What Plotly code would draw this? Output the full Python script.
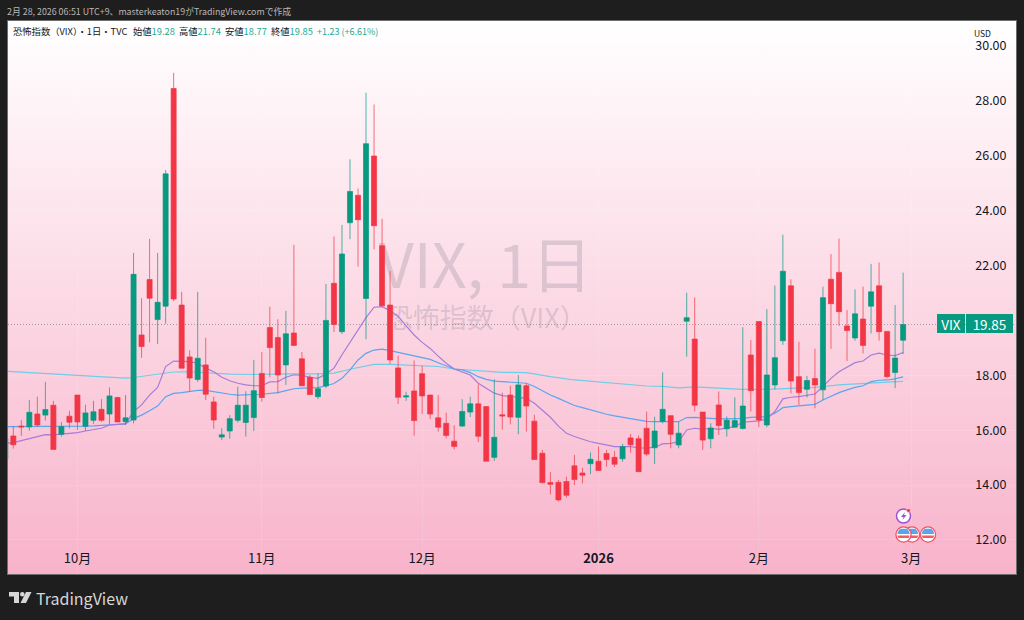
import base64
import plotly.graph_objects as go

# candles (index 0 is the half-hidden one at the left edge)
OPEN = [14.95, 15.79, 16.15, 16.12, 16.59, 16.55, 16.91, 15.85, 16.51, 17.28,
        16.14, 16.36, 16.76, 16.59, 17.19, 16.31, 16.37, 19.47, 21.49, 20.03,
        20.52, 28.45, 20.56, 18.67, 17.85, 18.38, 17.03, 15.75, 15.97, 16.36,
        16.28, 16.46, 18.07, 19.74, 19.38, 18.38, 19.54, 18.60, 17.93, 17.22,
        17.61, 21.35, 19.59, 23.56, 24.56, 20.80, 25.99, 22.72, 20.56, 18.27,
        17.21, 17.43, 18.06, 17.28, 16.45, 16.25, 15.60, 16.15, 16.66, 16.96,
        16.86, 15.01, 16.56, 17.28, 16.47, 17.62, 16.33, 15.16, 14.09, 14.10,
        14.13, 14.70, 14.44, 14.78, 14.87, 15.15, 15.01, 14.96, 15.72, 15.69,
        16.07, 15.36, 16.32, 16.53, 15.46, 19.97, 19.32, 16.66, 15.69, 16.92,
        16.05, 16.11, 16.06, 18.74, 19.96, 16.19, 17.65, 19.26, 21.26, 17.95,
        17.49, 17.88, 17.47, 21.50, 21.75, 19.80, 19.36, 20.05, 20.52, 21.26,
        19.60, 18.10, 19.28]
HIGH = [15.70, 16.15, 16.37, 17.10, 17.22, 17.76, 17.07, 16.30, 16.71, 17.28,
        16.93, 17.07, 17.13, 17.56, 17.22, 17.28, 22.46, 20.81, 22.97, 22.46,
        25.48, 29.02, 21.04, 18.91, 21.04, 19.37, 17.22, 16.07, 16.55, 17.59,
        17.42, 18.56, 18.85, 20.50, 20.04, 20.35, 22.75, 18.85, 18.01, 18.07,
        21.33, 23.06, 23.48, 25.87, 24.81, 28.30, 27.87, 23.70, 21.80, 18.72,
        17.40, 18.54, 18.34, 17.28, 17.28, 16.64, 16.18, 17.13, 17.22, 17.67,
        16.86, 17.86, 17.37, 17.62, 18.01, 17.71, 16.56, 15.28, 14.47, 14.19,
        14.31, 15.10, 14.63, 15.19, 15.41, 15.28, 15.24, 15.50, 15.86, 15.81,
        16.68, 16.49, 18.11, 16.53, 16.31, 21.01, 20.84, 16.66, 16.25, 17.41,
        16.50, 17.20, 19.75, 19.29, 19.96, 20.41, 21.27, 23.12, 21.50, 19.22,
        17.98, 18.97, 21.23, 22.42, 22.98, 20.38, 21.13, 21.23, 22.06, 22.11,
        19.60, 20.56, 21.74]
LOW = [14.95, 15.33, 15.79, 15.98, 16.13, 16.35, 15.30, 15.77, 16.07, 16.01,
       15.97, 16.23, 16.30, 16.23, 16.30, 16.19, 16.25, 18.64, 19.20, 19.14,
       19.88, 20.70, 18.26, 17.42, 17.76, 17.10, 16.05, 15.64, 15.69, 16.28,
       15.77, 15.97, 17.04, 17.93, 17.34, 17.65, 19.09, 17.62, 17.30, 17.13,
       17.53, 19.58, 19.50, 22.96, 21.96, 19.31, 22.59, 20.50, 18.41, 16.96,
       17.07, 15.80, 16.59, 16.40, 15.95, 15.70, 15.30, 16.12, 16.48, 15.57,
       14.87, 14.88, 16.02, 16.21, 15.85, 15.95, 14.93, 14.06, 13.66, 13.40,
       13.54, 14.00, 14.06, 14.40, 14.53, 14.67, 14.66, 14.85, 15.18, 14.49,
       15.06, 14.77, 16.25, 15.34, 15.34, 18.68, 16.68, 15.28, 15.34, 15.83,
       15.77, 16.11, 16.03, 16.68, 16.11, 16.11, 17.49, 19.11, 17.34, 16.92,
       17.19, 16.80, 17.10, 18.96, 19.80, 18.52, 19.26, 18.80, 19.53, 19.26,
       17.89, 17.53, 18.77]
CLOSE = [15.70, 15.47, 16.12, 16.65, 16.19, 16.75, 15.30, 16.13, 16.29, 16.30,
         16.63, 16.67, 16.36, 17.25, 16.30, 16.45, 21.68, 19.05, 20.81, 20.66,
         25.34, 20.78, 18.26, 17.90, 18.62, 17.31, 16.37, 15.83, 16.42, 16.91,
         16.91, 17.44, 17.19, 19.01, 18.01, 19.51, 19.09, 17.62, 17.30, 17.51,
         20.00, 19.85, 22.42, 24.70, 23.67, 26.44, 23.45, 20.53, 18.56, 17.20,
         17.25, 16.35, 17.25, 16.59, 16.11, 15.81, 15.41, 16.68, 16.96, 15.78,
         14.87, 15.74, 16.52, 16.48, 17.65, 16.88, 14.93, 14.09, 14.03, 13.46,
         13.63, 14.20, 14.36, 14.94, 14.53, 14.93, 14.76, 15.40, 15.47, 14.49,
         15.13, 15.97, 16.76, 15.85, 15.89, 20.10, 16.91, 15.64, 16.08, 16.17,
         16.36, 16.35, 16.88, 17.44, 16.37, 18.01, 18.64, 21.79, 17.79, 17.37,
         17.81, 17.65, 20.83, 20.61, 20.32, 19.63, 20.24, 19.09, 21.04, 19.59,
         17.95, 18.63, 19.85]

MA_SHORT = [15.52, 15.55, 15.62, 15.70, 15.77, 15.84, 15.83, 15.85, 15.87, 15.91,
            15.97, 16.02, 16.07, 16.19, 16.21, 16.23, 16.68, 16.92, 17.28, 17.56,
            18.32, 18.52, 18.51, 18.50, 18.44, 18.26, 18.13, 17.93, 17.80, 17.71,
            17.65, 17.62, 17.62, 17.76, 17.77, 17.93, 18.02, 18.00, 17.93, 17.89,
            18.05, 18.26, 18.75, 19.20, 19.70, 20.10, 20.48, 20.50, 20.35, 20.15,
            19.80, 19.47, 19.20, 18.98, 18.70, 18.44, 18.23, 18.13, 18.01, 17.71,
            17.53, 17.35, 17.26, 17.22, 17.20, 17.16, 16.98, 16.74, 16.47, 16.15,
            15.89, 15.77, 15.67, 15.58, 15.52, 15.46, 15.40, 15.40, 15.40, 15.36,
            15.35, 15.38, 15.50, 15.52, 15.58, 16.01, 16.07, 16.03, 16.07, 16.03,
            16.07, 16.13, 16.29, 16.31, 16.34, 16.41, 16.68, 17.14, 17.20, 17.22,
            17.26, 17.32, 17.59, 17.89, 18.13, 18.28, 18.46, 18.52, 18.74, 18.81,
            18.74, 18.72, 18.83]
MA_MID = [16.13, 16.13, 16.14, 16.14, 16.14, 16.14, 16.13, 16.13, 16.14, 16.14,
          16.15, 16.16, 16.18, 16.20, 16.22, 16.23, 16.43, 16.55, 16.71, 16.88,
          17.22, 17.34, 17.37, 17.40, 17.45, 17.45, 17.40, 17.34, 17.31, 17.28,
          17.28, 17.30, 17.31, 17.34, 17.37, 17.44, 17.51, 17.53, 17.53, 17.55,
          17.62, 17.70, 17.89, 18.20, 18.56, 18.80, 18.92, 18.95, 18.90, 18.84,
          18.77, 18.70, 18.64, 18.58, 18.46, 18.34, 18.23, 18.20, 18.10, 17.95,
          17.85, 17.79, 17.77, 17.75, 17.75, 17.71, 17.59, 17.43, 17.28, 17.16,
          17.02, 16.90, 16.82, 16.74, 16.65, 16.58, 16.52, 16.47, 16.43, 16.37,
          16.32, 16.31, 16.31, 16.29, 16.31, 16.46, 16.47, 16.45, 16.42, 16.41,
          16.41, 16.41, 16.43, 16.47, 16.47, 16.49, 16.62, 16.82, 16.86, 16.88,
          16.91, 16.94, 17.10, 17.25, 17.37, 17.47, 17.56, 17.62, 17.77, 17.82,
          17.83, 17.87, 17.94]
# the slow average is nearly flat, so only every few days was read
MA_LONG_DAY = [0, 5, 10, 15, 16, 18, 20, 21, 23, 25, 28, 31, 34, 36, 39, 41, 43, 46, 48,
               51, 54, 56, 59, 62, 65, 68, 71, 74, 77, 80, 82, 84, 86, 89, 92, 95, 98,
               101, 104, 107, 110, 112]
MA_LONG = [18.15, 18.07, 18.00, 17.90, 17.92, 18.00, 18.10, 18.12, 18.13, 18.10, 18.04,
           18.03, 18.05, 18.05, 18.05, 18.08, 18.22, 18.40, 18.40, 18.37, 18.32, 18.23,
           18.17, 18.11, 18.10, 17.95, 17.83, 17.75, 17.67, 17.61, 17.60, 17.54, 17.58,
           17.53, 17.49, 17.49, 17.53, 17.56, 17.65, 17.71, 17.75, 17.78]

MONTH_TICKS = [9, 32, 52, 74, 94, 113]
MONTH_LABELS = ['10月', '11月', '12月', '<b>2026</b>', '2月', '3月']
# 20.00 is covered by the price tag in the original
PRICE_TICKS = [12, 14, 16, 18, 22, 24, 26, 28, 30]

SYMBOL = 'VIX'
LAST_CLOSE = 19.85
OHLC_LABELS = ['始値', '高値', '安値', '終値']
OHLC_VALUES = ['19.28', '21.74', '18.77', '19.85']
OHLC_LEFT = [131, 177, 223, 269]

GREEN = '#089981'
TEAL_TEXT = '#22AB94'
RED = '#F23645'
DARK = '#1E1E1E'
FONT = 'Noto Sans CJK JP'

W, H = 1024, 620
L, R, T, B = 8, 1016, 21, 574
X_RANGE = [0.337, 126.08]
Y_RANGE = [10.76, 30.91]
days = list(range(len(CLOSE)))


def px(x):
    return (x - L) / (R - L)


def py(y):
    return (B - y) / (B - T)


def path(points):
    return 'M' + 'L'.join(f'{px(x):.5f},{py(y):.5f}' for x, y in points) + 'Z'


def circle(cx, cy, r, **kw):
    return dict(type='circle', xref='paper', yref='paper', x0=px(cx - r), x1=px(cx + r),
                y0=py(cy + r), y1=py(cy - r), **kw)


def poly(points, color):
    return dict(type='path', xref='paper', yref='paper', path=path(points),
                fillcolor=color, line_width=0)


def label(x, y, text, size=10, color='#131722', anchor='left', **kw):
    return dict(xref='paper', yref='paper', x=px(x), y=py(y), text=text, showarrow=False,
                xanchor=anchor, yanchor='middle', font=dict(family=FONT, size=size, color=color), **kw)


def flag(cx, cy):
    return [
        circle(cx, cy, 7.6, fillcolor='white', line=dict(color='#F4505F', width=1.3)),
        poly([(cx - 3.5, cy - 5.8), (cx + 3.5, cy - 5.8), (cx + 5.6, cy - 3), (cx + 6.2, cy - 0.5),
              (cx - 6.2, cy - 0.5), (cx - 5.6, cy - 3)], '#5CA2EC'),
        poly([(cx - 6.2, cy + 1), (cx + 6.2, cy + 1), (cx + 5.2, cy + 3.4), (cx - 5.2, cy + 3.4)], '#EF5B6A'),
    ]


# background gradient of the chart pane
gradient = ('<svg xmlns="http://www.w3.org/2000/svg" width="10" height="100" preserveAspectRatio="none">'
            '<defs><linearGradient id="g" x1="0" y1="0" x2="0" y2="1">'
            '<stop offset="0" stop-color="#FFFFFF"/><stop offset="1" stop-color="#F8B3CB"/>'
            '</linearGradient></defs><rect width="10" height="100" fill="url(#g)"/></svg>')
gradient_uri = 'data:image/svg+xml;base64,' + base64.b64encode(gradient.encode()).decode()

fig = go.Figure()
fig.add_trace(go.Scatter(x=[59.9], y=[21.72], mode='text', text=['VIX, 1日'], hoverinfo='skip',
                         textfont=dict(family=FONT, size=61, color='rgba(110,110,125,0.22)')))
fig.add_trace(go.Scatter(x=[60], y=[19.98], mode='text', text=['恐怖指数（VIX）'], hoverinfo='skip',
                         textfont=dict(family=FONT, size=27, color='rgba(110,110,125,0.22)')))
fig.add_trace(go.Scatter(x=MA_LONG_DAY, y=MA_LONG, mode='lines', line=dict(color='#6FCDE6', width=1.2)))
fig.add_trace(go.Scatter(x=days, y=MA_MID, mode='lines', line=dict(color='#5AA5EE', width=1.2)))
fig.add_trace(go.Scatter(x=days, y=MA_SHORT, mode='lines', line=dict(color='#A47DD8', width=1.2)))
# candles on an overlaid pair of axes so they sit above the average lines
fig.add_trace(go.Candlestick(
    x=days, open=OPEN, high=HIGH, low=LOW, close=CLOSE, xaxis='x2', yaxis='y2',
    increasing=dict(line=dict(color='rgba(8,153,129,0.7)', width=1), fillcolor=GREEN),
    decreasing=dict(line=dict(color='rgba(242,54,69,0.7)', width=1), fillcolor=RED),
    whiskerwidth=0,
))

shapes = [dict(type='line', xref='paper', x0=0, x1=1, yref='y', y0=LAST_CLOSE, y1=LAST_CLOSE,
               layer='below', line=dict(color='rgba(110,110,120,0.6)', width=1, dash='1px,2px'))]
# event badges near the last candle
shapes += flag(912, 534.5) + flag(928, 534.5) + flag(903.5, 534.5)
shapes += [
    circle(903.5, 516, 7, fillcolor='white', line=dict(color='#A24FD0', width=1.5)),
    poly([(905, 512), (901, 517), (903.5, 517), (902.5, 520), (906.5, 515), (904, 515)], '#A24FD0'),
    circle(908.5, 510.5, 2, fillcolor='#F23645', line=dict(color='white', width=0.5)),
]
# TradingView mark
logo = '#D6D6D6'
shapes += [
    poly([(9, 592), (19, 592), (19, 603), (14, 603), (14, 596.5), (9, 596.5)], logo),
    circle(22.3, 594.3, 2.3, fillcolor=logo, line_width=0),
    poly([(26, 592), (31.5, 592), (26, 603), (20.5, 603)], logo),
]

annotations = [
    label(5, 11, '2月 28, 2026 06:51 UTC+9、masterkeaton19がTradingView.comで作成', 8.85, '#B8B8B8'),
    label(11, 31.5, '恐怖指数（VIX）・1日・TVC', 9.3),
    label(315, 31.5, '+1.23 (+6.61%)', 9, TEAL_TEXT),
    label(972, 32.5, 'USD', 8.5),
    label(34, 598, 'TradingView', 16, logo),
    label(951, 323.5, SYMBOL, 13.5, 'white', 'center', bgcolor=GREEN,
          width=28, height=19, borderpad=0, borderwidth=0),
    label(989.5, 323.5, f'{LAST_CLOSE:.2f}', 13.5, 'white', 'center', bgcolor=GREEN,
          width=47, height=19, borderpad=0, borderwidth=0),
]
for left, name, value in zip(OHLC_LEFT, OHLC_LABELS, OHLC_VALUES):
    annotations.append(label(left, 31.5, f'{name}<span style="color:{TEAL_TEXT}">{value}</span>', 9.3))

edge = dict(showline=True, linecolor='#6E6E6E', linewidth=1, mirror=True, zeroline=False)
fig.update_layout(
    width=W, height=H, autosize=False,
    margin=dict(l=L, r=W - R, t=T, b=H - B, pad=0),
    paper_bgcolor=DARK, plot_bgcolor='rgba(0,0,0,0)',
    showlegend=False, hovermode=False, boxgap=0.1,
    images=[dict(source=gradient_uri, xref='paper', yref='paper', x=0, y=1, sizex=1, sizey=1,
                 xanchor='left', yanchor='top', sizing='stretch', layer='below')],
    xaxis=dict(range=X_RANGE, tickmode='array', tickvals=MONTH_TICKS, ticktext=MONTH_LABELS,
               ticklabelposition='inside', ticks='inside', ticklen=8, tickcolor='rgba(0,0,0,0)',
               tickfont=dict(family=FONT, size=13, color='#131722'),
               showgrid=True, gridcolor='rgba(255,255,255,0.12)', **edge),
    yaxis=dict(range=Y_RANGE, side='right', tickmode='array', tickvals=PRICE_TICKS,
               tickformat='.2f', ticklabelposition='inside', ticks='inside', ticklen=9,
               tickcolor='rgba(0,0,0,0)', tickfont=dict(family=FONT, size=12.5, color='#131722'),
               showgrid=True, gridcolor='rgba(255,255,255,0.12)', **edge),
    xaxis2=dict(range=X_RANGE, overlaying='x', visible=False, rangeslider=dict(visible=False)),
    yaxis2=dict(range=Y_RANGE, overlaying='y', visible=False),
    shapes=shapes, annotations=annotations,
)
# the page's default body margin would push the figure off by 8px
fig.write_html('out.html', config=dict(displayModeBar=False),
               post_script="document.body.style.margin='0';")
